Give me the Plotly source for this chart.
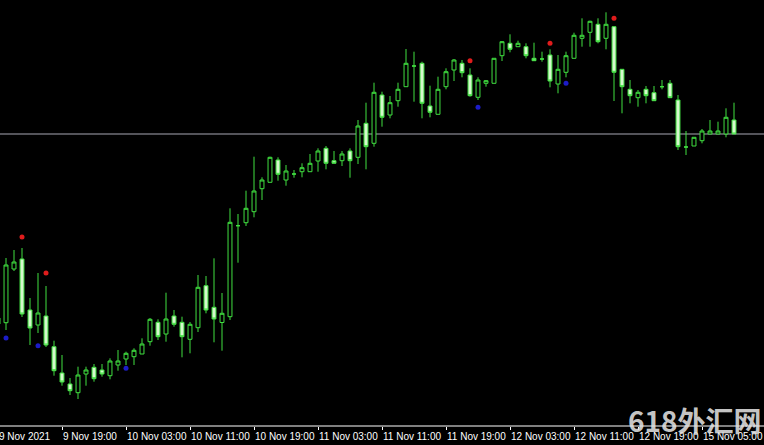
import plotly.graph_objects as go

# Hourly bars (index = bar number), prices
bar_index = list(range(93))

open_ = [1838.2, 1837.73, 1843.1, 1844.1, 1839.0, 1837.5, 1838.4, 1835.33, 1832.7, 1831.6,
         1830.73, 1832.6, 1833.27, 1833.0, 1832.43, 1833.5, 1834.1, 1834.33, 1834.6, 1835.83,
         1837.77, 1836.6, 1838.4, 1837.77, 1836.07, 1837.23, 1841.43, 1839.27, 1837.75, 1838.33,
         1847.43, 1847.73, 1848.83, 1851.13, 1851.77, 1854.0, 1852.0, 1852.6, 1852.83, 1852.83,
         1853.9, 1855.17, 1853.93, 1853.93, 1854.9, 1854.27, 1857.67, 1855.67, 1860.5, 1858.5,
         1859.93, 1861.33, 1863.4, 1863.67, 1859.4, 1858.57, 1861.33, 1863.0, 1863.67, 1862.5,
         1860.27, 1861.67, 1861.67, 1864.43, 1865.67, 1865.33, 1865.33, 1864.17, 1864.1, 1864.5,
         1861.6, 1862.77, 1864.17, 1866.17, 1866.77, 1867.57, 1866.17, 1867.33, 1863.07, 1861.07,
         1860.23, 1861.07, 1860.73, 1861.33, 1861.67, 1860.0, 1855.3, 1855.4, 1855.93, 1856.6,
         1856.6, 1856.6, 1858.0]
high = [1840.0, 1844.2, 1845.0, 1845.2, 1840.2, 1842.7, 1841.4, 1835.93, 1834.5, 1832.2,
        1833.33, 1833.33, 1833.6, 1833.6, 1834.17, 1835.0, 1834.83, 1835.17, 1836.17, 1838.2,
        1838.07, 1840.73, 1839.0, 1838.33, 1837.8, 1842.5, 1842.4, 1844.17, 1840.7, 1849.17,
        1848.6, 1850.93, 1854.33, 1852.27, 1854.33, 1854.27, 1853.5, 1853.0, 1853.67, 1854.6,
        1855.17, 1855.4, 1854.9, 1854.9, 1855.17, 1858.0, 1859.73, 1861.73, 1860.83, 1860.4,
        1861.73, 1865.1, 1864.83, 1863.83, 1861.43, 1862.33, 1863.17, 1864.1, 1864.0, 1863.17,
        1862.27, 1862.0, 1864.17, 1865.9, 1866.57, 1865.93, 1865.67, 1865.73, 1864.83, 1865.07,
        1864.5, 1864.83, 1866.73, 1868.17, 1867.93, 1868.17, 1868.77, 1867.4, 1863.1, 1862.0,
        1861.0, 1861.4, 1861.4, 1862.0, 1862.0, 1860.5, 1856.9, 1856.27, 1857.1, 1858.0,
        1857.83, 1859.17, 1859.73]
low = [1837.0, 1837.0, 1842.9, 1838.3, 1835.5, 1836.7, 1835.3, 1832.43, 1831.43, 1830.5,
       1830.1, 1831.43, 1831.83, 1832.33, 1832.07, 1832.93, 1833.5, 1833.5, 1834.6, 1835.43,
       1836.0, 1835.83, 1837.33, 1834.27, 1834.67, 1836.8, 1838.67, 1835.77, 1834.93, 1838.0,
       1843.73, 1847.4, 1848.27, 1850.0, 1851.77, 1851.93, 1851.43, 1852.23, 1852.27, 1852.83,
       1852.83, 1853.07, 1853.67, 1853.4, 1852.23, 1853.6, 1853.07, 1855.33, 1857.33, 1858.17,
       1859.33, 1861.33, 1859.83, 1858.17, 1858.27, 1858.57, 1861.07, 1861.9, 1862.27, 1860.33,
       1860.0, 1861.33, 1861.67, 1863.9, 1864.77, 1865.33, 1864.17, 1863.93, 1863.83, 1861.27,
       1860.67, 1862.27, 1864.17, 1865.33, 1865.33, 1865.67, 1865.07, 1859.9, 1858.67, 1859.67,
       1859.33, 1859.67, 1859.93, 1861.07, 1860.23, 1855.0, 1854.5, 1855.4, 1855.67, 1856.6,
       1856.6, 1856.27, 1856.6]
close = [1837.6, 1843.5, 1843.8, 1838.6, 1837.2, 1838.7, 1835.5, 1832.93, 1831.8, 1830.93,
         1832.5, 1833.0, 1832.13, 1832.6, 1833.9, 1833.9, 1834.67, 1834.97, 1835.6, 1838.07,
         1836.33, 1838.1, 1837.57, 1836.33, 1837.57, 1841.27, 1839.0, 1838.1, 1838.67, 1847.77,
         1847.43, 1849.17, 1850.9, 1852.0, 1854.27, 1852.57, 1852.9, 1852.6, 1853.23, 1853.67,
         1854.9, 1853.67, 1853.67, 1854.6, 1853.93, 1857.4, 1855.33, 1860.77, 1858.27, 1859.73,
         1861.07, 1863.67, 1863.4, 1859.67, 1858.77, 1861.07, 1862.83, 1864.0, 1862.73, 1860.43,
         1862.0, 1861.93, 1864.17, 1865.83, 1865.07, 1865.67, 1864.43, 1863.93, 1864.1, 1861.9,
         1863.07, 1864.43, 1866.47, 1866.47, 1867.87, 1865.83, 1867.57, 1862.77, 1861.33, 1860.43,
         1860.77, 1860.43, 1859.93, 1861.33, 1860.23, 1855.33, 1855.3, 1856.27, 1856.9, 1856.9,
         1856.9, 1858.27, 1856.6]

# Fractal markers
fractal_up_idx = [3, 6, 59, 69, 77]
fractal_up_val = [1846.3, 1842.7, 1863.93, 1865.67, 1868.17]
fractal_dn_idx = [1, 5, 16, 60, 71]
fractal_dn_val = [1836.2, 1835.43, 1833.17, 1859.27, 1861.67]

# Time axis labels (every 8 bars)
tick_idx = [0, 8, 16, 24, 32, 40, 48, 56, 64, 72, 80, 88]
tick_text = ["9 Nov 2021", "9 Nov 19:00", "10 Nov 03:00", "10 Nov 11:00", "10 Nov 19:00",
             "11 Nov 03:00", "11 Nov 11:00", "11 Nov 19:00", "12 Nov 03:00", "12 Nov 11:00",
             "12 Nov 19:00", "15 Nov 05:00"]

GREEN = "#40e040"
X_RANGE = [0.25, 95.75]

fig = go.Figure()
fig.add_trace(go.Candlestick(
    x=bar_index, open=open_, high=high, low=low, close=close,
    increasing=dict(line=dict(color=GREEN, width=1), fillcolor="#000000"),
    decreasing=dict(line=dict(color=GREEN, width=1), fillcolor="#d4f8cc"),
    whiskerwidth=0, showlegend=False, hoverinfo="skip",
))
fig.add_trace(go.Scatter(
    x=fractal_up_idx, y=fractal_up_val, mode="markers",
    marker=dict(color="#e01c1c", size=5, symbol="circle"), showlegend=False, hoverinfo="skip"))
fig.add_trace(go.Scatter(
    x=fractal_dn_idx, y=fractal_dn_val, mode="markers",
    marker=dict(color="#1c1cc8", size=5, symbol="circle"), showlegend=False, hoverinfo="skip"))

# Bid line at last close
fig.add_shape(type="line", xref="paper", x0=0, x1=1, yref="y", y0=close[-1], y1=close[-1],
              line=dict(color="#a8a8b4", width=1), layer="below")
# Time-scale baseline
fig.add_shape(type="line", xref="paper", x0=0, x1=1, yref="paper", y0=0, y1=0,
              line=dict(color="#ffffff", width=1))

annotations = []
for k, t in zip(tick_idx, tick_text):
    # convert bar index to paper fraction so labels at the very edge are kept
    xp = (k - X_RANGE[0]) / (X_RANGE[1] - X_RANGE[0])
    annotations.append(dict(x=xp, xref="paper", y=0, yref="paper", text=t, showarrow=False,
                            xanchor="left", yanchor="middle", yshift=-10, xshift=-1,
                            font=dict(family="Liberation Sans, Arial, sans-serif", size=10, color="#ffffff")))
# watermark (paper coordinates of pixel x=695, y=420 within the 426px plot area)
annotations.append(dict(x=695 / 764, xref="paper", y=(426 - 420) / 426, yref="paper", text="618外汇网",
                        showarrow=False, xanchor="center", yanchor="middle",
                        font=dict(family="Noto Sans CJK SC, sans-serif", size=28, weight="bold",
                                  color="rgba(225,225,225,0.9)")))

fig.update_layout(
    width=764, height=445,
    margin=dict(l=0, r=0, t=0, b=19, autoexpand=False),
    paper_bgcolor="#000000", plot_bgcolor="#000000",
    xaxis=dict(range=X_RANGE, showgrid=False, zeroline=False, showline=False,
               ticks="outside", ticklen=3,
               tickcolor="#ffffff", tickvals=tick_idx, showticklabels=False,
               rangeslider=dict(visible=False)),
    yaxis=dict(range=[1827.4, 1870], visible=False, showgrid=False, zeroline=False),
    annotations=annotations,
)

fig.write_html("out.html", config={"displayModeBar": False},
               post_script="document.body.style.margin='0';document.body.style.background='#000';")
